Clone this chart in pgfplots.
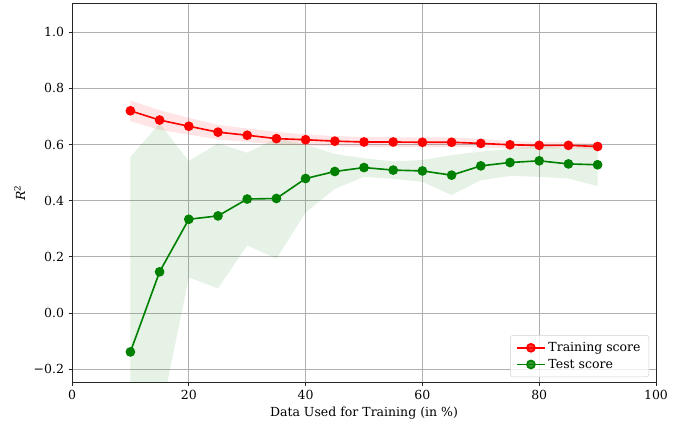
\documentclass[border=0pt]{standalone}
\usepackage{fontspec}
\setmainfont{DejaVu Serif}
\usepackage{pgfplots}
\pgfplotsset{compat=1.18}
\usepgfplotslibrary{fillbetween}
\definecolor{mplgreen}{HTML}{008000}
\definecolor{gridgray}{HTML}{B0B0B0}

\begin{document}
\begin{tikzpicture}
\begin{axis}[
  scale only axis, width=467.2pt, height=302.4pt,
  xmin=0, xmax=100, ymin=-0.245, ymax=1.1,
  xtick={0,20,40,60,80,100},
  ytick={-0.2,0,0.2,0.4,0.6,0.8,1.0},
  yticklabels={−0.2,0.0,0.2,0.4,0.6,0.8,1.0},
  /pgf/number format/assume math mode=true,
  tick label style={font=\fontsize{10}{12}\selectfont},
  label style={font=\fontsize{10}{12}\selectfont},
  grid=major, major grid style={gridgray, line width=0.8pt},
  axis line style={line width=0.8pt, black!85},
  tick style={line width=0.8pt, black!85},
  tick align=outside, major tick length=2.8pt,
  xtick pos=lower, ytick pos=left,
  xlabel={Data Used for Training (in \%)},
  ylabel={\textit{R}\textsuperscript{2}},
  xlabel style={yshift=1pt},
  legend style={at={(0.988,0.013)}, anchor=south east, draw=gray!35,
    rounded corners=2pt, fill=white, fill opacity=0.8, text opacity=1,
    font=\fontsize{10}{12}\selectfont, inner xsep=4.5pt, inner ysep=3.5pt,
    row sep=0.5pt},
  legend cell align=left,
  legend image code/.code={\draw[mark repeat=2,mark phase=2]
    plot coordinates {(0cm,0cm)(0.4cm,0cm)(0.8cm,0cm)};},
]
% training band
\addplot[name path=tru, draw=none, forget plot] coordinates {
(10,0.757)(15,0.722)(20,0.695)(25,0.670)(30,0.657)(35,0.645)(40,0.636)(45,0.630)
(50,0.627)(55,0.626)(60,0.625)(65,0.625)(70,0.620)(75,0.612)(80,0.609)(85,0.608)(90,0.604)};
\addplot[name path=trl, draw=none, forget plot] coordinates {
(10,0.683)(15,0.652)(20,0.635)(25,0.618)(30,0.609)(35,0.600)(40,0.597)(45,0.594)
(50,0.591)(55,0.591)(60,0.591)(65,0.591)(70,0.590)(75,0.586)(80,0.585)(85,0.586)(90,0.584)};
\addplot[fill=red, fill opacity=0.1, draw=none, forget plot] fill between[of=tru and trl];
% test band
\addplot[name path=teu, draw=none, forget plot] coordinates {
(10,0.556)(15,0.675)(20,0.541)(25,0.604)(30,0.571)(35,0.622)(40,0.600)(45,0.566)
(50,0.551)(55,0.540)(60,0.545)(65,0.562)(70,0.575)(75,0.584)(80,0.599)(85,0.583)(90,0.604)};
\addplot[name path=tel, draw=none, forget plot] coordinates {
(10,-0.832)(15,-0.381)(20,0.127)(25,0.088)(30,0.241)(35,0.194)(40,0.358)(45,0.442)
(50,0.485)(55,0.478)(60,0.467)(65,0.420)(70,0.473)(75,0.488)(80,0.485)(85,0.479)(90,0.452)};
\addplot[fill=mplgreen, fill opacity=0.1, draw=none, forget plot] fill between[of=teu and tel];
% means
\addplot[red, line width=1.3pt, mark=*, mark size=3.2pt] coordinates {
(10,0.720)(15,0.687)(20,0.665)(25,0.644)(30,0.633)(35,0.621)(40,0.617)(45,0.612)
(50,0.609)(55,0.609)(60,0.608)(65,0.608)(70,0.604)(75,0.599)(80,0.597)(85,0.597)(90,0.593)};
\addplot[mplgreen, line width=1.3pt, mark=*, mark size=3.2pt] coordinates {
(10,-0.138)(15,0.147)(20,0.334)(25,0.346)(30,0.406)(35,0.408)(40,0.479)(45,0.504)
(50,0.518)(55,0.509)(60,0.506)(65,0.491)(70,0.524)(75,0.536)(80,0.542)(85,0.531)(90,0.528)};
\legend{Training score, Test score}
\end{axis}
\pgfresetboundingbox
\useasboundingbox (-57.6pt,-34.4pt) rectangle (493.6pt,305.6pt);
\end{tikzpicture}
\end{document}
